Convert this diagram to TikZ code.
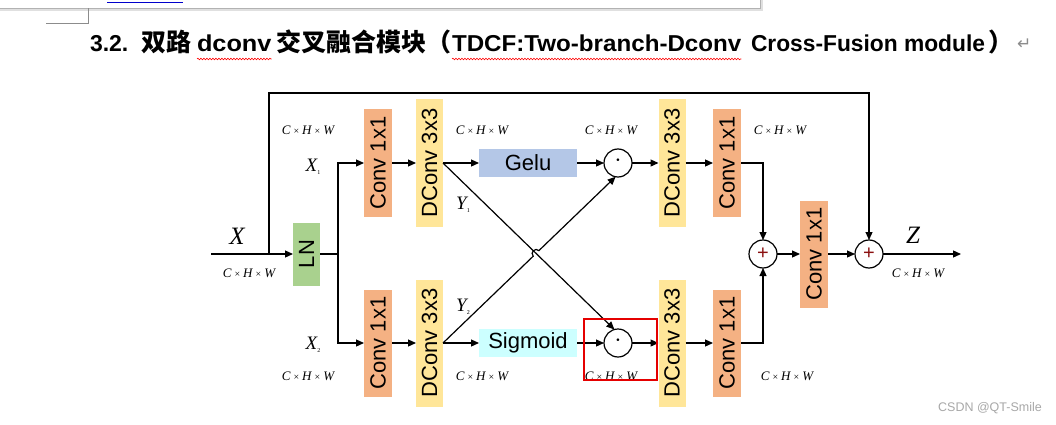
\documentclass[tikz,border=0pt]{standalone}
\usepackage{fontspec}
\setmainfont{Liberation Serif}
\setsansfont{Liberation Sans}
\newfontfamily\cjk{Noto Sans CJK SC}
\newfontfamily\dejavu{DejaVu Sans}
\usetikzlibrary{arrows.meta,decorations.pathmorphing,calc}
\definecolor{convc}{HTML}{F4B183}
\definecolor{dconvc}{HTML}{FFE699}
\definecolor{lnc}{HTML}{A9D18E}
\definecolor{geluc}{HTML}{B4C7E7}
\definecolor{sigc}{HTML}{CCFFFF}
\definecolor{plusc}{HTML}{8B1010}
\definecolor{wmc}{HTML}{A8A8A8}
\newcommand{\chwtext}{C\hspace{3pt}{\upshape\fontsize{10}{10}\selectfont ×}\hspace{3pt}H\hspace{3pt}{\upshape\fontsize{10}{10}\selectfont ×}\hspace{3pt}W}
\tikzset{
  blk/.style={fill=#1, draw=none, inner sep=0pt, outer sep=0pt, font=\sffamily\fontsize{22}{22}\selectfont},
  convbox/.style={blk=convc, minimum width=28pt, minimum height=107pt},
  dconvbox/.style={blk=dconvc, minimum width=27pt, minimum height=127pt},
  lnbox/.style={blk=lnc, minimum width=27pt, minimum height=63pt},
  actbox/.style={blk=#1, minimum width=98pt, minimum height=28pt},
  opnode/.style={circle, draw, line width=1.2pt, minimum size=28pt, inner sep=0pt, outer sep=0pt, fill=white},
  arr/.style={-{Triangle[length=8pt,width=7pt]}, line width=1.2pt},
  wire/.style={line width=1.2pt},
  chw/.style={font=\itshape\fontsize{13}{13}\selectfont, inner sep=0pt},
  varlbl/.style={font=\itshape\fontsize{19}{19}\selectfont, inner sep=0pt},
  biglbl/.style={font=\itshape\fontsize{25}{25}\selectfont, inner sep=0pt},
  tl/.style={font=\sffamily\bfseries\fontsize{23}{23}\selectfont, inner sep=0pt, outer sep=0pt, anchor=base west},
  tc/.style={font=\cjk\bfseries\fontsize{25}{25}\selectfont, inner sep=0pt, outer sep=0pt, anchor=base west},
  wavy/.style={draw=red, line width=0.6pt, decorate, decoration={snake, amplitude=0.8pt, segment length=3pt}}
}
\begin{document}
\begin{tikzpicture}[x=1pt, y=-1pt]
\useasboundingbox (0,0) rectangle (1056,425);
\fill[white] (0,0) rectangle (1056,425);
% top popup edge and page corner mark
\fill[black!12] (0,8) rectangle (763,11);
\fill[black!12] (760,0) rectangle (763,11);
\draw[black!30, line width=0.8pt] (0,8) -- (760,8) -- (760,0);
\draw[blue!80!black, line width=1pt] (107,3) -- (183,3);
\draw[black!45, line width=0.8pt] (46,23) -- (88,23) -- (88,8);

% title
\node[tl] (t1) at (90,52) {3.2.};
\node[tc] (t2) at (141,52) {双路};
\node[tl] (t3) at (197,52) {\scalebox{1.1}[1]{dconv}};
\node[tc] (t4) at (276,52) {交叉融合模块（};
\node[tl] (t5) at (452,52) {\scalebox{1.05}[1]{TDCF:Two-branch-Dconv}};
\node[tl] (t6) at (751,52) {\scalebox{0.99}[1]{Cross-Fusion module}};
\node[tc] (t7) at ($(t6.base east)+(3,0)$) {）};
\node[font=\dejavu\fontsize{17}{17}\selectfont, text=black!45, inner sep=0pt, anchor=base west] (ret) at (1017,50) {↵};
\draw[wavy] ($(t3.base west)+(0,7)$) -- ($(t3.base east)+(0,7)$);
\draw[wavy] ($(t5.base west)+(0,7)$) -- ($(t5.base east)+(0,7)$);

% blocks
\node[lnbox] (ln) at (306.5,254) {\rotatebox{90}{LN}};
\node[convbox] (c1a) at (378,163) {\rotatebox{90}{Conv 1x1}};
\node[convbox] (c1b) at (378,343) {\rotatebox{90}{Conv 1x1}};
\node[dconvbox] (d1a) at (429.5,163) {\rotatebox{90}{DConv 3x3}};
\node[dconvbox] (d1b) at (429.5,343) {\rotatebox{90}{DConv 3x3}};
\node[actbox=geluc] (gelu) at (528,163) {Gelu};
\node[actbox=sigc] (sig) at (528,343) {Sigmoid};
\node[opnode, font=\fontsize{22}{22}\selectfont] (m1) at (618,163) {·};
\node[opnode, font=\fontsize{22}{22}\selectfont] (m2) at (618,343) {·};
\node[dconvbox] (d2a) at (672,163) {\rotatebox{90}{DConv 3x3}};
\node[dconvbox] (d2b) at (672,343) {\rotatebox{90}{DConv 3x3}};
\node[convbox] (c2a) at (727,163) {\rotatebox{90}{Conv 1x1}};
\node[convbox] (c2b) at (727,343) {\rotatebox{90}{Conv 1x1}};
\node[opnode, text=plusc, font=\sffamily\fontsize{20}{20}\selectfont] (p1) at (763,254) {+};
\node[convbox] (c3) at (814,254) {\rotatebox{90}{Conv 1x1}};
\node[opnode, text=plusc, font=\sffamily\fontsize{20}{20}\selectfont] (p2) at (869,254) {+};

% coordinates
\coordinate (inp) at (211,254);
\coordinate (br) at (269,254);
\coordinate (topR) at (869,93);
\coordinate (sp) at (338,254);
\coordinate (out) at (961,254);
\coordinate (hopa) at (533.2,256.2);
\coordinate (hopb) at (538.9,250.6);

% connectors
\draw[arr] (inp) -- (ln);
\draw[arr] (br) |- (topR) -- (p2);
\draw[wire] (ln) -- (sp);
\draw[arr] (sp) |- (c1a);
\draw[arr] (sp) |- (c1b);
\draw[arr] (c1a) -- (d1a);
\draw[arr] (c1b) -- (d1b);
\draw[arr] (d1a) -- (gelu);
\draw[arr] (d1b) -- (sig);
\draw[arr] (gelu) -- (m1);
\draw[arr] (sig) -- (m2);
\draw[arr] (d1a.east) -- (m2.105);
\draw[arr] (d1b.east) -- (hopa) .. controls (529.7,252.6) and (535.4,247.0) .. (hopb) -- (m1.-100);
\draw[arr] (m1) -- (d2a);
\draw[arr] (m2) -- (d2b);
\draw[arr] (d2a) -- (c2a);
\draw[arr] (d2b) -- (c2b);
\draw[arr] (c2a) -| (p1);
\draw[arr] (c2b) -| (p1);
\draw[arr] (p1) -- (c3);
\draw[arr] (c3) -- (p2);
\draw[arr] (p2) -- (out);

% labels
\node[biglbl] (lx) at (237,236) {X};
\node[varlbl] (lx1) at (313,167) {X\raisebox{-3pt}{\upshape\fontsize{6}{6}\selectfont 1}};
\node[varlbl] (lx2) at (313,345) {X\raisebox{-3pt}{\upshape\fontsize{6}{6}\selectfont 2}};
\node[varlbl] (ly1) at (463,205) {Y\raisebox{-3pt}{\upshape\fontsize{6}{6}\selectfont 1}};
\node[varlbl] (ly2) at (463,307) {Y\raisebox{-3pt}{\upshape\fontsize{6}{6}\selectfont 2}};
\node[biglbl] (lz) at (913,235) {Z};
\node[chw] (s1) at (249,273) {\chwtext};
\node[chw] (s2) at (308,130) {\chwtext};
\node[chw] (s3) at (308,376) {\chwtext};
\node[chw] (s4) at (482,130) {\chwtext};
\node[chw] (s5) at (482,376) {\chwtext};
\node[chw] (s6) at (611,130) {\chwtext};
\node[chw] (s7) at (611,376) {\chwtext};
\node[chw] (s8) at (780,130) {\chwtext};
\node[chw] (s9) at (787,376) {\chwtext};
\node[chw] (s10) at (918,273) {\chwtext};

% highlight box
\draw[red!90!black, line width=1.6pt] (584,319) rectangle (657,380);

% watermark
\node[font=\sffamily\fontsize{12.5}{12.5}\selectfont, text=wmc, inner sep=0pt] (wm) at (990,408) {CSDN @QT-Smile};
\end{tikzpicture}
\end{document}
